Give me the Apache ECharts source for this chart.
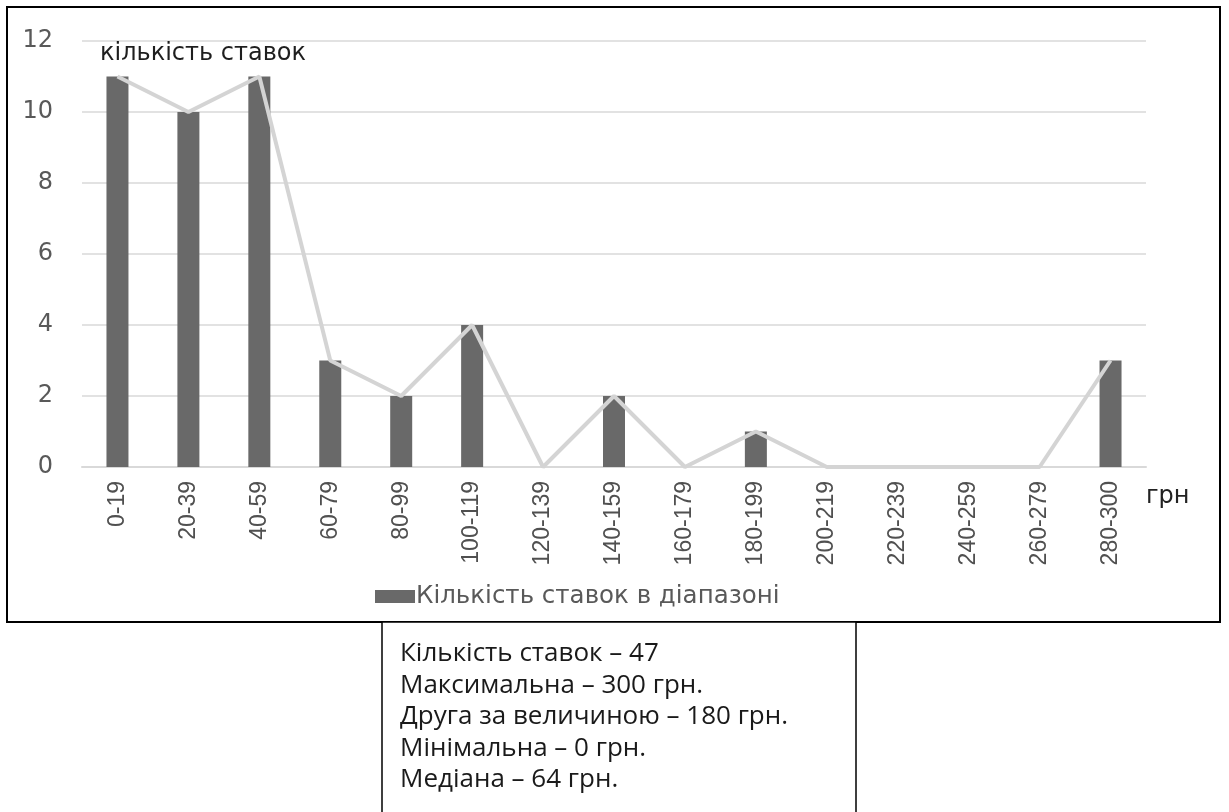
<!DOCTYPE html>
<html><head><meta charset="utf-8">
<script src="https://cdn.jsdelivr.net/npm/echarts@6/dist/echarts.min.js"></script>
<style>html,body{margin:0;padding:0;background:#fff;overflow:hidden}#c{width:1229px;height:812px}</style>
</head><body><div id="c"></div>
<script>
const categories = ['0-19','20-39','40-59','60-79','80-99','100-119','120-139','140-159','160-179','180-199','200-219','220-239','240-259','260-279','280-300'];
const barValues = [11,10,11,3,2,4,0,2,0,1,0,0,0,0,3];
const lineValues = [11,10,11,3,2,4,0,2,0,1,0,0,0,0,3];
const yMin = 0, yMax = 12, yStep = 2;
const seriesName = 'Кількість ставок в діапазоні';
const axisTitle = 'кількість ставок';
const unitName = 'грн';
const statsLines = ['Кількість ставок – 47','Максимальна – 300 грн.','Друга за величиною – 180 грн.','Мінімальна – 0 грн.','Медіана – 64 грн.'];

const chart = echarts.init(document.getElementById('c'));
chart.setOption({
  animation: false,
  backgroundColor: '#fff',
  title: {
    text: axisTitle, left: 100, top: 42, padding: 0,
    textStyle: {fontFamily: 'DejaVu Sans', fontSize: 24, fontWeight: 'normal', color: '#1e1e1e'}
  },
  legend: {
    data: [seriesName], left: 375, top: 584, padding: 0,
    icon: 'rect', itemWidth: 40, itemHeight: 13, itemGap: 0,
    textStyle: {fontFamily: 'DejaVu Sans', fontSize: 24.5, color: '#595959', padding: [0,0,0,-4]}
  },
  grid: {left: 82, right: 83, top: 41, bottom: 345, containLabel: false},
  xAxis: {
    type: 'category', data: categories,
    axisLine: {lineStyle: {color: '#d9d9d9', width: 2}},
    axisTick: {show: false},
    axisLabel: {rotate: 90, margin: 14, fontSize: 23, color: '#505050', fontFamily: "'Liberation Sans',sans-serif"},
    name: unitName, nameLocation: 'end', nameGap: 0,
    nameTextStyle: {fontFamily: 'DejaVu Sans', fontSize: 24, color: '#222', align: 'left', verticalAlign: 'top', padding: [18,0,0,0]}
  },
  yAxis: {
    type: 'value', min: yMin, max: yMax, interval: yStep,
    axisLine: {show: false}, axisTick: {show: false},
    axisLabel: {fontSize: 24, color: '#595959', margin: 29, fontFamily: 'DejaVu Sans'},
    splitLine: {lineStyle: {color: '#d9d9d9', width: 1.5}}
  },
  series: [
    {name: seriesName, type: 'bar', data: barValues, barWidth: 22, itemStyle: {color: '#696969'}},
    {name: 'trend', type: 'line', data: lineValues, symbol: 'none', lineStyle: {color: '#d4d4d4', width: 4}, itemStyle: {color: '#d4d4d4'}}
  ],
  graphic: [
    {type: 'rect', silent: true, z: -1, shape: {x: 7, y: 7, width: 1213, height: 615}, style: {fill: 'none', stroke: '#000', lineWidth: 2}},
    {type: 'rect', silent: true, shape: {x: 382, y: 622, width: 474, height: 200}, style: {fill: '#fff', stroke: '#000', lineWidth: 1.5}},
    {type: 'text', silent: true, x: 400, y: 638, style: {text: statsLines.join('\n'), fontFamily: 'Open Sans', fontSize: 26, lineHeight: 31.5, fill: '#1a1a1a'}}
  ]
});
</script></body></html>
